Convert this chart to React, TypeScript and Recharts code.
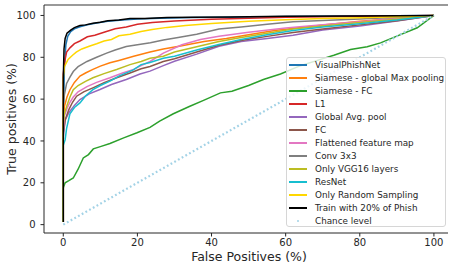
import { LineChart, Line, XAxis, YAxis, ReferenceLine } from "recharts"

// [false positives %, true positives %]
const visualPhishNet = [[0,1.3],[0,45],[0.3,75],[0.7,86],[1.2,90],[2,92.3],[3,93.6],[4.5,94.6],[6.5,95.6],[9,96.4],[12,97.2],[16,97.8],[20,98.3],[26,98.7],[35,99],[45,99.2],[60,99.5],[75,99.7],[90,99.9],[100,100]]
const siameseMax = [[0,1.3],[0,50],[0.3,56.5],[1,61],[1.8,64.5],[3,68],[4.5,71],[6,72.5],[8,74.2],[10,75.8],[12.6,77.4],[15,78.5],[19,80.5],[23.4,82.5],[27,84],[32,85.5],[38,87.5],[44,89],[50,90.8],[57,92.8],[64,94.3],[72,95.8],[80,97.2],[90,98.6],[100,100]]
const siameseFc = [[0,1.3],[0,17.6],[0.5,20],[1.5,21],[2.7,22.3],[4,26.5],[5.4,31.9],[6.8,33.5],[8.1,36.2],[10,37.3],[12.6,38.8],[16.3,41.5],[19.9,43.9],[23.4,46.5],[26,49.5],[29.7,53],[34,56.5],[38,59.5],[42.4,63],[45.5,63.8],[50,66.5],[54,69.4],[58.6,72],[64,76],[69.4,79],[73,81],[77.5,83.7],[82,85],[85.6,86.9],[90,90.1],[95.5,94.1],[100,100]]
const l1 = [[0,1.3],[0,72],[0.4,78],[0.9,82.5],[1.8,84.5],[3,86.5],[4.5,87.8],[6.5,89.8],[8.5,90.5],[11,92],[14,93.6],[17,94.5],[20,95.8],[24,96.6],[30,97.4],[40,98.2],[50,98.7],[60,99.1],[75,99.5],[90,99.8],[100,100]]
const globalAvg = [[0,1.3],[0,42],[0.5,50],[1.5,53.5],[3,57],[4.5,59.8],[7,62.5],[9.9,64.6],[13,67],[17,69.4],[20.7,72],[23.4,73.4],[27,76],[30,78.1],[36,81.5],[42,85.3],[48,87.5],[55,89],[62,90.5],[70,93],[80,95],[90,97.3],[100,100]]
const fc = [[0,1.3],[0,44],[0.5,50],[1.5,55],[2.5,58.5],[3.6,61.4],[5.5,63.5],[8,65.4],[11,67.8],[14.4,70.2],[18,72.5],[21,74.5],[23.4,75.6],[27,78],[30,79.3],[36,82.5],[42,85.8],[48,88],[55,90],[62,91.8],[70,93.5],[80,95.5],[90,97.5],[100,100]]
const flattened = [[0,1.3],[0,45],[0.3,52],[1,55.5],[1.8,58.5],[2.7,61],[4,63.5],[6.4,66],[9,68],[12.6,70.2],[16,72.5],[19,74.2],[21,76],[23.4,78],[27,82],[32,86],[37,88.5],[42,90.1],[50,92],[60,94],[70,95.6],[80,97],[90,98.5],[100,100]]
const conv3x3 = [[0,1.3],[0,58],[0.3,62],[0.9,67.5],[1.8,70.5],[2.7,73.2],[4,75.5],[6.4,78],[9,80],[11.7,82],[14,83.5],[17,85.2],[20,86],[23.5,87],[27,88.3],[31,89.5],[36,91],[42,93.5],[48,94.5],[55,95.8],[62,97],[70,97.6],[80,98.3],[90,99.2],[100,100]]
const onlyVgg = [[0,1.3],[0,48],[0.3,53],[1,57],[1.8,61],[2.7,64.5],[4,66.5],[6,68.5],[8,70.2],[11,72.2],[14.4,74.2],[18,76.5],[21,78],[23.4,79.5],[27,80.5],[30,82.5],[36,85],[42,87.5],[48,89.5],[55,91.5],[62,93.5],[70,95],[80,96.6],[90,98.2],[100,100]]
const resNet = [[0,1.3],[0,38],[0.5,40.5],[0.9,46],[1.8,53],[3,56],[4.5,58.2],[6,61.5],[8,64.5],[10,66.5],[12.6,68.6],[15,71],[18.9,74],[21,76.5],[23.4,77.5],[27,79.5],[30,80.5],[36,83.5],[42,86.1],[48,88.5],[55,90.8],[62,92.8],[70,94.5],[80,96],[90,97.8],[100,100]]
const randomSampling = [[0,1.3],[0,70],[0.3,75.5],[1.3,79],[2.5,81],[3.5,82.5],[5,84],[7,85.3],[9,86.5],[11,87.8],[13,88.5],[15,90.3],[18,91],[21,92.3],[24,93.3],[28,94.3],[33,95.2],[40,96.2],[50,97.2],[60,98],[70,98.5],[80,98.9],[90,99.4],[100,100]]
const train20 = [[0,1.3],[0,70],[0.2,84],[0.5,89],[1,91.5],[2,93],[3,94.2],[4.5,95.2],[6,95.5],[8,96.3],[10,96.8],[12,97.5],[15,97.8],[18,98.5],[22,98.6],[28,99],[35,99.1],[45,99.3],[60,99.6],[80,99.8],[100,100]]
const chance = [[0,0],[100,100]]

const xTicks = [0, 20, 40, 60, 80, 100]
const yTicks = [0, 20, 40, 60, 80, 100]

const series = [
  { name: "VisualPhishNet", pts: visualPhishNet, color: "#1f77b4" },
  { name: "Siamese - global Max pooling", pts: siameseMax, color: "#ff7f0e" },
  { name: "Siamese - FC", pts: siameseFc, color: "#2ca02c" },
  { name: "L1", pts: l1, color: "#d62728" },
  { name: "Global Avg. pool", pts: globalAvg, color: "#9467bd" },
  { name: "FC", pts: fc, color: "#8c564b" },
  { name: "Flattened feature map", pts: flattened, color: "#e377c2" },
  { name: "Conv 3x3", pts: conv3x3, color: "#7f7f7f" },
  { name: "Only VGG16 layers", pts: onlyVgg, color: "#bcbd22" },
  { name: "ResNet", pts: resNet, color: "#17becf" },
  { name: "Only Random Sampling", pts: randomSampling, color: "#ffd700" },
  { name: "Train with 20% of Phish", pts: train20, color: "#000000" },
]

const toRows = (pts: number[][]) => pts.map(([x, y]) => ({ x, y }))

const font = "'DejaVu Sans', sans-serif"
const ink = "#262626"
const chanceColor = "#a2d2e6"

function ChartLegend() {
  return (
    <div
      style={{
        position: "absolute",
        left: 286,
        top: 57,
        width: 160,
        height: 170,
        border: "1px solid #d6d6d6",
        borderRadius: 3,
        background: "rgba(255,255,255,0.8)",
        fontFamily: font,
        fontSize: 8.8,
        color: ink,
        boxSizing: "border-box",
        paddingTop: 0.5,
      }}
    >
      {series.map((s) => (
        <div key={s.name} style={{ display: "flex", alignItems: "center", height: 13, whiteSpace: "nowrap" }}>
          <span style={{ display: "inline-block", width: 18, height: 2, background: s.color, marginLeft: 2, marginRight: 8 }} />
          {s.name}
        </div>
      ))}
      <div style={{ display: "flex", alignItems: "center", height: 13, whiteSpace: "nowrap" }}>
        <span style={{ display: "inline-block", width: 18, marginLeft: 2, marginRight: 8, position: "relative", height: 2 }}>
          <span style={{ position: "absolute", left: 8, top: 0, width: 2, height: 2, borderRadius: 1, background: chanceColor }} />
        </span>
        Chance level
      </div>
    </div>
  )
}

export default function App() {
  return (
    <div style={{ position: "absolute", left: 0, top: 0, width: 449, height: 264, background: "#fff" }}>
      <LineChart width={449} height={264} margin={{ top: 5, right: 1, bottom: 0, left: 0 }}>
        <XAxis
          type="number"
          dataKey="x"
          domain={[-5.2, 103.8]}
          allowDataOverflow
          ticks={xTicks}
          tickSize={3.5}
          tickMargin={2}
          height={31}
          stroke={ink}
          tick={{ fill: ink, fontSize: 10, fontFamily: font }}
          label={{ value: "False Positives (%)", position: "insideBottom", offset: 3, dx: 3, style: { fill: ink, fontSize: 12.5, fontFamily: font } }}
        />
        <YAxis
          type="number"
          dataKey="y"
          domain={[-4, 105]}
          allowDataOverflow
          ticks={yTicks}
          tickSize={3.5}
          tickMargin={5}
          width={44}
          stroke={ink}
          tick={{ fill: ink, fontSize: 10, fontFamily: font }}
          label={{ value: "True positives (%)", angle: -90, position: "insideLeft", offset: 12, style: { fill: ink, fontSize: 12.5, fontFamily: font, textAnchor: "middle" } }}
        />
        <ReferenceLine y={105} stroke="#777" strokeWidth={1.5} />
        {series.map((s) => (
          <Line
            key={s.name}
            data={toRows(s.pts)}
            dataKey="y"
            name={s.name}
            type="linear"
            stroke={s.color}
            strokeWidth={1.5}
            dot={false}
            isAnimationActive={false}
          />
        ))}
        <Line
          data={toRows(chance)}
          dataKey="y"
          name="Chance level"
          type="linear"
          stroke={chanceColor}
          strokeWidth={2.2}
          strokeDasharray="1.8 2.45"
          dot={false}
          isAnimationActive={false}
        />
      </LineChart>
      <ChartLegend />
    </div>
  )
}
